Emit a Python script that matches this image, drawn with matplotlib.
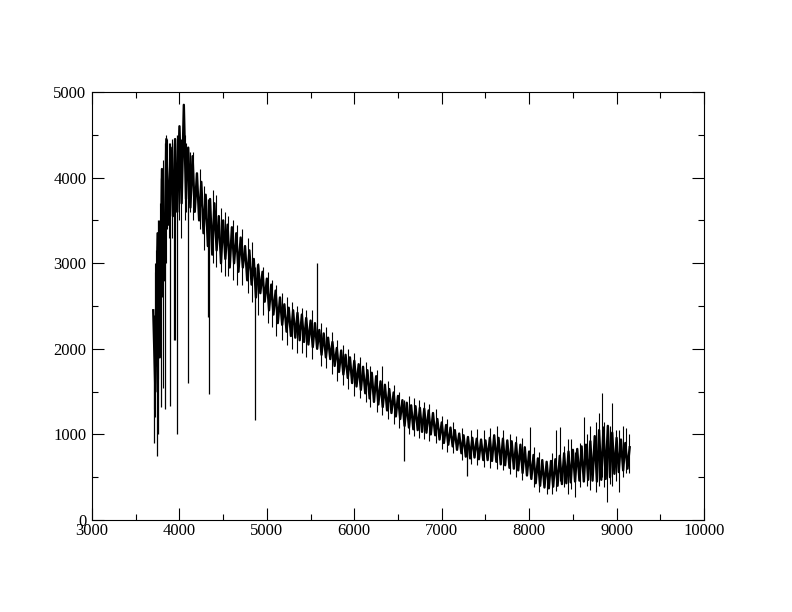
import matplotlib
matplotlib.use("Agg")
import matplotlib.pyplot as plt
import numpy as np

# continuum band, sampled every 25 A from 3700 to 9150 (alternating upper / lower noise excursions)
wave = np.arange(3700, 9151, 25)
flux = [
    2450, 1500, 3350, 1900, 4100, 2800, 4450, 3450,   # 3700
    4350, 3550, 4450, 3600, 4600, 3700, 4850, 3750,   # 3900
    4350, 3650, 4250, 3600, 4050, 3500, 3950, 3350,   # 4100
    3800, 3200, 3750, 3100, 3700, 3150, 3550, 3000,   # 4300
    3500, 3050, 3450, 2950, 3420, 3000, 3350, 2900,   # 4500
    3300, 2950, 3200, 2800, 3150, 2750, 3050, 2600,   # 4700
    2980, 2650, 2900, 2550, 2820, 2450, 2750, 2400,   # 4900
    2680, 2300, 2600, 2280, 2520, 2200, 2480, 2150,   # 5100
    2450, 2130, 2420, 2100, 2400, 2080, 2360, 2050,   # 5300
    2330, 2020, 2300, 2000, 2220, 1930, 2180, 1900,   # 5500
    2130, 1880, 2080, 1800, 2010, 1730, 1980, 1700,   # 5700
    1930, 1660, 1900, 1600, 1860, 1560, 1820, 1520,   # 5900
    1790, 1480, 1750, 1420, 1720, 1380, 1680, 1350,   # 6100
    1620, 1320, 1580, 1280, 1530, 1250, 1490, 1210,   # 6300
    1450, 1180, 1400, 1100, 1370, 1080, 1340, 1060,   # 6500
    1330, 1050, 1310, 1030, 1300, 1020, 1280, 1000,   # 6700
    1250, 990, 1180, 940, 1140, 900, 1110, 880,       # 6900
    1080, 860, 1050, 820, 1010, 780, 990, 740,        # 7100
    970, 720, 960, 730, 950, 710, 940, 700,           # 7300
    930, 700, 960, 690, 990, 680, 960, 650,           # 7500
    950, 640, 930, 610, 920, 600, 900, 580,           # 7700
    880, 550, 850, 520, 800, 480, 760, 430,           # 7900
    720, 400, 700, 380, 680, 370, 690, 390,           # 8100
    710, 400, 750, 420, 780, 430, 800, 440,           # 8300
    820, 450, 830, 460, 860, 450, 880, 470,           # 8500
    920, 460, 980, 450, 1050, 470, 1080, 480,         # 8700
    1100, 500, 1020, 540, 960, 560, 940, 580,         # 8900
    900, 600, 850,                                    # 9100
]

# absorption lines and the 5577 sky line
line_wave = [3712, 3738, 3760, 3790, 3835, 3889, 3933, 3970, 4101, 4325, 4340,
             4861, 5577, 6563, 7290]
line_lo = [900, 750, 1000, 1320, 1300, 1330, 2100, 1000, 1600, 2370, 1470,
           1170, 2100, 690, 520]
line_hi = [2400, 3200, 3500, 4000, 4400, 4400, 4400, 4500, 4300, 3750, 3700,
           2950, 3000, 1400, 960]

# noise spikes above / below the band
spike_wave = [3705, 3720, 3725, 3730, 3745, 3755, 3765, 3770, 3780, 3800, 3815,
              3850, 3860, 3875,
              3910, 3950, 3990, 4020, 4060, 4080, 4120, 4150, 4230, 4280, 4380,
              4420, 4470, 4520, 4560, 4610, 4660, 4720, 4780, 4830, 4900, 4960,
              5010, 5060, 5110, 5170, 5230, 5290, 5340, 5400, 5450, 5520, 5620,
              5680, 5740, 5800, 5870, 5930, 6000, 6060, 6130, 6180, 6260, 6320,
              6390, 6450, 6510, 6620, 6680, 6740, 6800, 6860, 6930, 7000, 7060,
              7130, 7230, 7330, 7400, 7480, 7550, 7630, 7700, 7780, 7850, 7920,
              8010, 8060, 8110, 8200, 8260, 8310, 8350, 8400, 8440, 8480, 8525,
              8580, 8630, 8660, 8700, 8760, 8800, 8835, 8860, 8890, 8920, 8950,
              8990, 9030, 9070, 9110, 9140]
spike_lo = [1300, 1600, 1200, 1800, 1700, 1650, 1900, 2000, 2300, 2600, 1540,
            3000, 3400, 3300,
            3300, 2100, 3500, 3300, 3500, 3600, 3600, 3500, 3400, 3150, 3000,
            2950, 2900, 2850, 2850, 2800, 2750, 2750, 2650, 2550, 2400, 2400,
            2300, 2250, 2150, 2100, 2050, 2000, 1950, 1950, 1900, 1880, 1800,
            1780, 1700, 1620, 1580, 1530, 1450, 1420, 1380, 1320, 1260, 1230,
            1180, 1120, 1080, 1000, 980, 960, 950, 920, 900, 830, 800,
            780, 700, 650, 640, 620, 610, 600, 580, 540, 500, 470,
            500, 380, 330, 300, 300, 340, 450, 380, 300, 360, 270,
            380, 450, 400, 350, 330, 400, 500, 380, 210, 420, 400,
            450, 330, 500, 550, 550]
spike_hi = [2300, 3000, 2900, 3150, 3300, 3350, 3300, 3500, 3700, 4000, 4200,
            4500, 4450, 4400,
            4450, 4400, 4600, 4450, 4500, 4400, 4300, 4300, 4100, 3900, 3850,
            3800, 3650, 3600, 3550, 3500, 3450, 3400, 3300, 3250, 3000, 2950,
            2900, 2800, 2750, 2650, 2600, 2550, 2500, 2480, 2450, 2450, 2300,
            2250, 2200, 2100, 2050, 2000, 1950, 1900, 1850, 1800, 1750, 1800,
            1620, 1580, 1500, 1450, 1420, 1400, 1380, 1350, 1300, 1220, 1180,
            1150, 1080, 1050, 1060, 1050, 1080, 1100, 1050, 1000, 980, 960,
            1090, 850, 800, 650, 780, 1050, 1090, 870, 950, 950, 800,
            900, 1200, 1000, 1100, 1150, 1250, 1480, 1150, 1000, 1100, 1370,
            1050, 1050, 1100, 1080, 1000]

plt.rcParams['font.family'] = ['Liberation Serif', 'DejaVu Serif']

fig = plt.figure(figsize=(7.92, 6.12), dpi=100)
ax = fig.add_axes([0.1162, 0.1503, 0.7727, 0.6994])

ax.plot(wave, flux, color="black", lw=1.7)
ax.vlines(line_wave, line_lo, line_hi, color="black", lw=0.9)
ax.vlines(spike_wave, spike_lo, spike_hi, color="black", lw=0.8)

ax.set_xlim(3000, 10000)
ax.set_ylim(0, 5000)
ax.set_xticks(np.arange(3000, 10001, 1000))
ax.set_xticks(np.arange(3500, 10000, 1000), minor=True)
ax.set_yticks(np.arange(0, 5001, 1000))
ax.set_yticks(np.arange(500, 5000, 1000), minor=True)
ax.tick_params(which="both", direction="in", top=True, right=True, width=0.8)
ax.tick_params(which="major", length=8.5, labelsize=12)
ax.tick_params(which="minor", length=4.3)
ax.tick_params(axis="x", pad=2)
ax.tick_params(axis="y", pad=4)
for s in ax.spines.values():
    s.set_linewidth(0.8)

fig.savefig("out.png", dpi=100)
